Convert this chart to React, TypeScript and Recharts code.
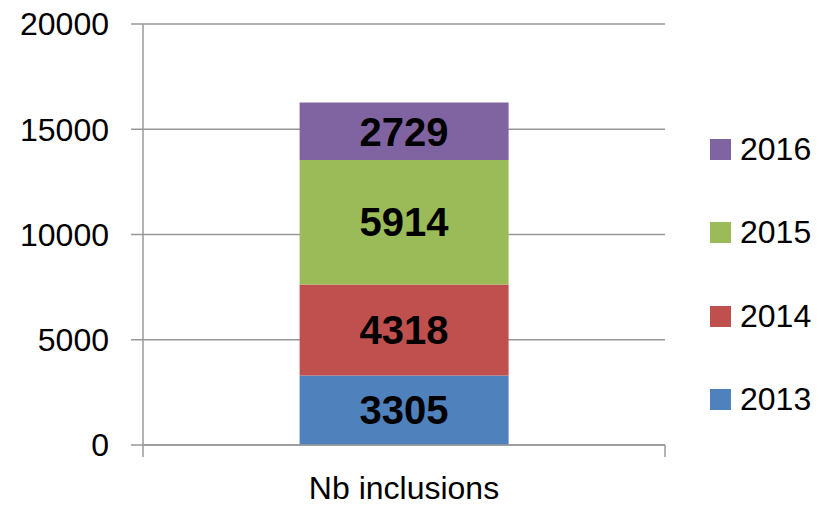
import React from "react";
import {
  BarChart,
  Bar,
  XAxis,
  YAxis,
  CartesianGrid,
  LabelList,
} from "recharts";

const categories = ["Nb inclusions"];
const years = ["2013", "2014", "2015", "2016"];
const v2013 = [3305];
const v2014 = [4318];
const v2015 = [5914];
const v2016 = [2729];
const yTicks = [0, 5000, 10000, 15000, 20000];
const colors = ["#4F81BD", "#C0504D", "#9BBB59", "#8064A2"];

const data = categories.map((name, i) => ({
  name,
  "2013": v2013[i],
  "2014": v2014[i],
  "2015": v2015[i],
  "2016": v2016[i],
}));

const W = 819;
const H = 507;
const Y_W = 143;
const RIGHT = 154;
const PLOT_W = W - Y_W - RIGHT;
const FONT = "'Liberation Sans', Arial, sans-serif";
const AXIS = "#989898";

function XTick(props: any) {
  const { x, y, payload } = props;
  const half = PLOT_W / 2;
  return (
    <g>
      <line x1={x - half} y1={y} x2={x - half} y2={y + 12} stroke={AXIS} strokeWidth={1.5} />
      <line x1={x + half} y1={y} x2={x + half} y2={y + 12} stroke={AXIS} strokeWidth={1.5} />
      <text x={x} y={y + 54} textAnchor="middle" fill="#000" fontSize={32} fontFamily={FONT}>
        {payload.value}
      </text>
    </g>
  );
}

function LegendBox() {
  const items = years.map((y, i) => ({ value: y, color: colors[i] })).reverse();
  return (
    <div
      style={{
        position: "absolute",
        left: 710,
        top: 108,
        fontFamily: FONT,
        fontSize: 32,
        color: "#000",
      }}
    >
      {items.map((it) => (
        <div key={it.value} style={{ height: 83.3, display: "flex", alignItems: "center" }}>
          <span style={{ width: 21, height: 21, background: it.color, display: "inline-block", marginRight: 9 }} />
          <span>{it.value}</span>
        </div>
      ))}
    </div>
  );
}

export default function App() {
  return (
    <div style={{ position: "absolute", left: 0, top: 0, width: W, height: H, background: "#fff" }}>
      <BarChart
        width={W}
        height={H}
        data={data}
        margin={{ top: 24, right: RIGHT, left: 0, bottom: 0 }}
        barCategoryGap="30%"
      >
        <CartesianGrid vertical={false} stroke={AXIS} strokeWidth={1.5} />
        <XAxis
          dataKey="name"
          height={62}
          tickLine={false}
          tickSize={0}
          tickMargin={0}
          axisLine={{ stroke: AXIS, strokeWidth: 1.5 }}
          tick={<XTick />}
          interval={0}
        />
        <YAxis
          width={Y_W}
          domain={[0, 20000]}
          ticks={yTicks}
          tickSize={12}
          tickMargin={22}
          tickLine={{ stroke: AXIS, strokeWidth: 1.5 }}
          axisLine={{ stroke: AXIS, strokeWidth: 1.5 }}
          tick={{ fill: "#000", fontSize: 32, fontFamily: FONT }}
        />
        {years.map((yr, i) => (
          <Bar key={yr} dataKey={yr} stackId="a" fill={colors[i]} isAnimationActive={false}>
            <LabelList
              dataKey={yr}
              position="center"
              fill="#000"
              fontSize={40}
              fontWeight="bold"
              fontFamily={FONT}
            />
          </Bar>
        ))}
      </BarChart>
      <LegendBox />
    </div>
  );
}
